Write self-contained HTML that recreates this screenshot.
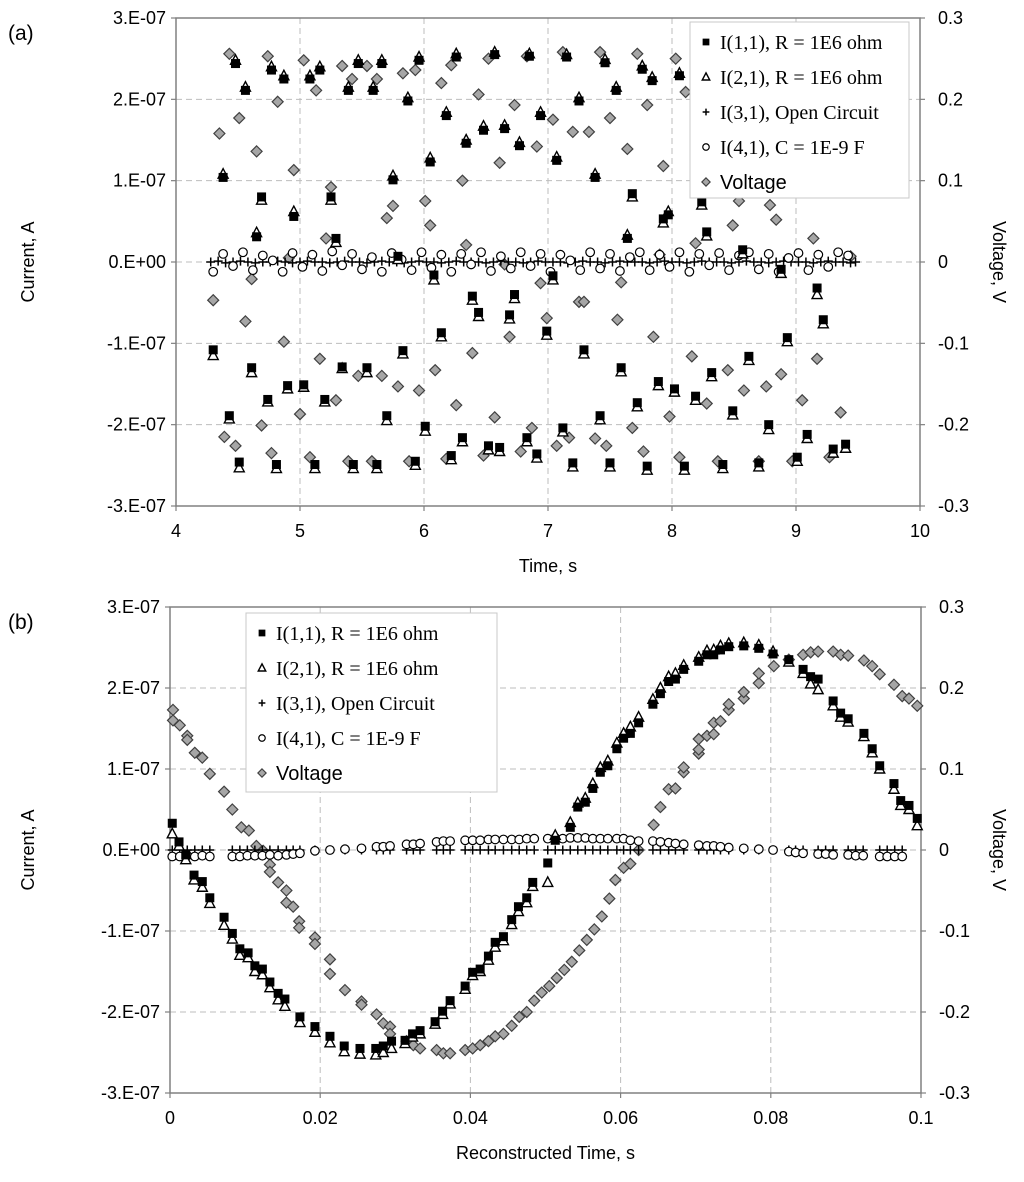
<!DOCTYPE html>
<html><head><meta charset="utf-8"><style>
html,body{margin:0;padding:0;background:#fff;}
svg{display:block;}
text{font-family:"Liberation Sans",sans-serif;fill:#000;}
.serif{font-family:"Liberation Serif",serif;}
</style></head><body>
<svg id="svg" width="1024" height="1182" viewBox="0 0 1024 1182" xmlns="http://www.w3.org/2000/svg">
<g id="gA"></g>
<g id="gB"></g>
</svg>
<script>
// ---------- Chart (a) data ----------
const yTicksCurrent = ["3.E-07","2.E-07","1.E-07","0.E+00","-1.E-07","-2.E-07","-3.E-07"];
const yTickCurrentVals = [3,2,1,0,-1,-2,-3];
const yTicksVoltage = ["0.3","0.2","0.1","0","-0.1","-0.2","-0.3"];
const xTicksA = [4,5,6,7,8,9,10];
const xTicksB = [0,0.02,0.04,0.06,0.08,0.1];
const xTickLabelsB = ["0","0.02","0.04","0.06","0.08","0.1"];

const sqAT = [4.30,4.38,4.43,4.48,4.51,4.56,4.61,4.65,4.69,4.74,4.77,4.81,4.87,4.90,4.95,5.03,5.08,5.12,5.16,5.20,5.25,5.29,5.34,5.39,5.43,5.47,5.54,5.59,5.62,5.66,5.70,5.75,5.79,5.83,5.87,5.93,5.96,6.01,6.05,6.08,6.14,6.18,6.22,6.26,6.31,6.34,6.39,6.44,6.48,6.52,6.57,6.61,6.65,6.69,6.73,6.77,6.83,6.85,6.91,6.94,6.99,7.04,7.07,7.12,7.15,7.20,7.25,7.29,7.38,7.42,7.46,7.50,7.55,7.59,7.64,7.68,7.72,7.76,7.80,7.84,7.89,7.93,7.97,8.02,8.06,8.10,8.19,8.24,8.28,8.32,8.41,8.49,8.57,8.62,8.70,8.78,8.88,8.93,9.01,9.09,9.17,9.22,9.30,9.40];
const sqAI = [-1.08,1.04,-1.89,2.44,-2.46,2.11,-1.30,0.31,0.80,-1.69,2.36,-2.49,2.25,-1.52,0.56,-1.51,2.25,-2.49,2.36,-1.69,0.80,0.29,-1.29,2.11,-2.49,2.44,-1.30,2.11,-2.49,2.44,-1.89,1.01,0.07,-1.09,1.98,-2.45,2.48,-2.02,1.23,-0.16,-0.87,1.80,-2.38,2.52,-2.16,1.46,-0.42,-0.62,1.62,-2.26,2.55,-2.28,1.64,-0.65,-0.40,1.43,-2.16,2.53,-2.36,1.80,-0.85,-0.17,1.25,-2.04,2.52,-2.47,1.98,-1.08,1.04,-1.89,2.45,-2.47,2.11,-1.30,0.29,0.84,-1.73,2.37,-2.51,2.23,-1.47,0.53,0.58,-1.56,2.29,-2.51,-1.65,0.74,0.37,-1.36,-2.49,-1.83,0.15,-1.16,-2.47,-2.00,-0.09,-0.93,-2.40,-2.12,-0.32,-0.71,-2.30,-2.24];
const triAI = [-1.15,1.08,-1.93,2.48,-2.53,2.15,-1.36,0.36,0.76,-1.72,2.40,-2.54,2.29,-1.56,0.62,-1.54,2.29,-2.54,2.40,-1.72,0.76,0.24,-1.31,2.15,-2.54,2.48,-1.36,2.15,-2.54,2.48,-1.95,1.06,0.03,-1.13,2.02,-2.50,2.52,-2.08,1.28,-0.22,-0.92,1.84,-2.43,2.56,-2.21,1.50,-0.47,-0.67,1.67,-2.31,2.58,-2.33,1.68,-0.70,-0.45,1.47,-2.21,2.56,-2.41,1.84,-0.90,-0.22,1.29,-2.09,2.55,-2.52,2.02,-1.13,1.08,-1.94,2.49,-2.52,2.15,-1.35,0.33,0.80,-1.78,2.41,-2.56,2.27,-1.52,0.48,0.62,-1.60,2.32,-2.56,-1.70,0.70,0.32,-1.41,-2.54,-1.88,0.10,-1.21,-2.52,-2.06,-0.14,-0.98,-2.45,-2.17,-0.40,-0.76,-2.35,-2.29];
const vAT = [4.30,4.35,4.39,4.43,4.48,4.51,4.56,4.61,4.65,4.69,4.74,4.77,4.82,4.87,4.91,4.95,5.00,5.03,5.08,5.13,5.16,5.21,5.25,5.29,5.34,5.39,5.42,5.47,5.54,5.58,5.62,5.66,5.70,5.75,5.79,5.83,5.88,5.93,5.96,6.01,6.05,6.09,6.14,6.18,6.22,6.26,6.31,6.34,6.39,6.44,6.48,6.52,6.57,6.61,6.65,6.69,6.73,6.78,6.83,6.87,6.91,6.94,6.99,7.04,7.07,7.12,7.17,7.20,7.25,7.29,7.33,7.38,7.42,7.47,7.50,7.56,7.59,7.64,7.68,7.72,7.77,7.80,7.85,7.90,7.93,7.98,8.03,8.06,8.11,8.16,8.19,8.28,8.37,8.45,8.49,8.54,8.58,8.70,8.76,8.79,8.84,8.88,8.97,9.05,9.14,9.17,9.27,9.36,9.44];
const vAV = [-0.047,0.158,-0.215,0.256,-0.226,0.177,-0.073,-0.021,0.136,-0.201,0.253,-0.235,0.197,-0.098,0.005,0.113,-0.187,0.248,-0.240,0.211,-0.119,0.029,0.092,-0.170,0.241,-0.245,0.225,-0.140,0.241,-0.245,0.225,-0.140,0.054,0.069,-0.153,0.232,-0.245,0.236,-0.158,0.075,0.045,-0.133,0.220,-0.242,0.242,-0.176,0.100,0.021,-0.112,0.206,-0.238,0.250,-0.191,0.122,-0.003,-0.092,0.193,-0.233,0.253,-0.204,0.142,-0.026,-0.069,0.175,-0.226,0.258,-0.216,0.160,-0.049,-0.049,0.160,-0.217,0.258,-0.226,0.177,-0.071,-0.025,0.139,-0.204,0.256,-0.233,0.193,-0.092,0.009,0.118,-0.190,0.250,-0.240,0.209,-0.116,0.023,-0.174,-0.245,-0.133,0.045,0.075,-0.158,-0.245,-0.153,0.070,0.052,-0.138,-0.245,-0.170,0.029,-0.119,-0.240,-0.185,0.007];
const circAT = [4.30,4.38,4.46,4.54,4.62,4.70,4.78,4.86,4.94,5.02,5.10,5.18,5.26,5.34,5.42,5.50,5.58,5.66,5.74,5.82,5.90,5.98,6.06,6.14,6.22,6.30,6.38,6.46,6.54,6.62,6.70,6.78,6.86,6.94,7.02,7.10,7.18,7.26,7.34,7.42,7.50,7.58,7.66,7.74,7.82,7.90,7.98,8.06,8.14,8.22,8.30,8.38,8.46,8.54,8.62,8.70,8.78,8.86,8.94,9.02,9.10,9.18,9.26,9.34,9.42];
const circAI = [-0.12,0.10,-0.05,0.12,-0.10,0.08,0.02,-0.12,0.11,-0.06,0.09,-0.11,0.13,-0.04,0.10,-0.09,0.06,-0.12,0.11,0.03,-0.10,0.12,-0.07,0.09,-0.12,0.10,-0.03,0.12,-0.11,0.07,-0.08,0.12,-0.05,0.10,-0.12,0.09,0.02,-0.10,0.12,-0.08,0.10,-0.11,0.06,0.12,-0.10,0.09,-0.06,0.12,-0.12,0.10,-0.04,0.11,-0.10,0.08,0.12,-0.09,0.10,-0.12,0.05,0.11,-0.10,0.09,-0.06,0.12,0.08];
const plusAT = [4.28,4.34,4.40,4.46,4.52,4.58,4.64,4.70,4.76,4.82,4.88,4.94,5.00,5.06,5.12,5.18,5.24,5.30,5.36,5.42,5.48,5.54,5.60,5.66,5.72,5.78,5.84,5.90,5.96,6.02,6.08,6.14,6.20,6.26,6.32,6.38,6.44,6.50,6.56,6.62,6.68,6.74,6.80,6.86,6.92,6.98,7.04,7.10,7.16,7.22,7.28,7.34,7.40,7.46,7.52,7.58,7.64,7.70,7.76,7.82,7.88,7.94,8.00,8.06,8.12,8.18,8.24,8.30,8.36,8.42,8.48,8.54,8.60,8.66,8.72,8.78,8.84,8.90,8.96,9.02,9.08,9.14,9.20,9.26,9.32,9.38,9.44,9.48];
const plusAI = [0,0.01,-0.01,0,0.01,0,-0.01,0,0,0.01,0,-0.01,0,0.01,0,0,-0.01,0,0.01,0,0,-0.01,0,0.01,0,0,-0.01,0,0.01,0,0,-0.01,0,0.01,0,0,0,-0.01,0,0.01,0,0,-0.01,0,0.01,0,0,0,-0.01,0,0.01,0,0,-0.01,0,0.01,0,0,0,-0.01,0,0.01,0,0,-0.01,0,0.01,0,0,0,-0.01,0,0.01,0,0,-0.01,0,0.01,0,0,0,-0.01,0,0.01,0,0,-0.01,0];

// ---------- Chart (b) data ----------
const sqBT = [0.0003,0.0012,0.0021,0.0032,0.0043,0.0053,0.0072,0.0083,0.0093,0.0104,0.0113,0.0123,0.0133,0.0144,0.0153,0.0173,0.0193,0.0213,0.0232,0.0253,0.0274,0.0284,0.0295,0.0313,0.0323,0.0333,0.0353,0.0363,0.0373,0.0393,0.0403,0.0413,0.0424,0.0433,0.0444,0.0455,0.0464,0.0475,0.0483,0.0503,0.0513,0.0533,0.0543,0.0553,0.0563,0.0573,0.0583,0.0595,0.0604,0.0613,0.0624,0.0643,0.0653,0.0664,0.0673,0.0684,0.0704,0.0715,0.0724,0.0733,0.0744,0.0764,0.0784,0.0803,0.0824,0.0843,0.0853,0.0863,0.0883,0.0893,0.0903,0.0924,0.0935,0.0945,0.0964,0.0973,0.0984,0.0995];
const sqBI = [0.33,0.10,-0.06,-0.31,-0.39,-0.59,-0.83,-1.03,-1.22,-1.27,-1.43,-1.47,-1.63,-1.77,-1.84,-2.06,-2.18,-2.30,-2.42,-2.45,-2.45,-2.42,-2.36,-2.35,-2.27,-2.23,-2.12,-1.99,-1.86,-1.68,-1.51,-1.47,-1.31,-1.14,-1.07,-0.86,-0.70,-0.59,-0.40,-0.16,0.12,0.28,0.53,0.59,0.76,0.96,1.04,1.25,1.38,1.44,1.57,1.80,1.93,2.08,2.11,2.23,2.33,2.41,2.41,2.47,2.51,2.52,2.49,2.42,2.35,2.23,2.14,2.11,1.84,1.69,1.62,1.44,1.25,1.04,0.82,0.61,0.55,0.39];
const triBI = [0.20,0.05,-0.12,-0.37,-0.46,-0.66,-0.93,-1.10,-1.30,-1.33,-1.50,-1.54,-1.70,-1.85,-1.93,-2.13,-2.25,-2.38,-2.49,-2.52,-2.53,-2.50,-2.45,-2.39,-2.31,-2.27,-2.15,-2.03,-1.90,-1.72,-1.55,-1.50,-1.36,-1.20,-1.12,-0.92,-0.76,-0.65,-0.45,-0.40,0.18,0.34,0.58,0.64,0.82,1.02,1.10,1.32,1.44,1.52,1.64,1.86,2.00,2.14,2.18,2.28,2.38,2.46,2.47,2.52,2.55,2.56,2.53,2.45,2.32,2.18,2.05,1.98,1.78,1.64,1.58,1.40,1.20,1.00,0.75,0.55,0.50,0.30];
const vBT = [0.0004,0.0004,0.0013,0.0023,0.0023,0.0033,0.0043,0.0053,0.0072,0.0083,0.0095,0.0105,0.0115,0.0124,0.0133,0.0133,0.0144,0.0155,0.0155,0.0164,0.0172,0.0172,0.0193,0.0193,0.0213,0.0213,0.0233,0.0255,0.0255,0.0275,0.0284,0.0293,0.0293,0.0315,0.0324,0.0333,0.0355,0.0364,0.0373,0.0393,0.0403,0.0413,0.0424,0.0433,0.0444,0.0455,0.0465,0.0475,0.0485,0.0495,0.0505,0.0515,0.0525,0.0535,0.0545,0.0555,0.0565,0.0575,0.0585,0.0593,0.0604,0.0613,0.0624,0.0644,0.0653,0.0664,0.0673,0.0684,0.0684,0.0704,0.0704,0.0704,0.0715,0.0724,0.0724,0.0733,0.0744,0.0744,0.0764,0.0764,0.0784,0.0784,0.0804,0.0824,0.0843,0.0853,0.0863,0.0883,0.0893,0.0903,0.0924,0.0935,0.0945,0.0964,0.0975,0.0984,0.0995];
const vBV = [0.173,0.160,0.154,0.141,0.136,0.120,0.114,0.094,0.072,0.050,0.028,0.024,0.005,-0.001,-0.018,-0.027,-0.040,-0.050,-0.065,-0.070,-0.088,-0.096,-0.108,-0.116,-0.135,-0.153,-0.173,-0.187,-0.191,-0.203,-0.214,-0.218,-0.227,-0.236,-0.241,-0.245,-0.247,-0.251,-0.251,-0.247,-0.245,-0.241,-0.236,-0.230,-0.227,-0.217,-0.206,-0.200,-0.186,-0.176,-0.168,-0.158,-0.148,-0.138,-0.124,-0.111,-0.098,-0.082,-0.060,-0.037,-0.022,-0.017,0.000,0.031,0.053,0.075,0.076,0.096,0.102,0.119,0.124,0.137,0.141,0.143,0.157,0.159,0.173,0.180,0.187,0.195,0.206,0.218,0.227,0.235,0.241,0.244,0.245,0.245,0.241,0.240,0.234,0.227,0.217,0.204,0.190,0.187,0.178];
const circBT = [0.0003,0.0013,0.0023,0.0033,0.0043,0.0053,0.0083,0.0093,0.0103,0.0113,0.0123,0.0133,0.0144,0.0155,0.0164,0.0173,0.0193,0.0213,0.0233,0.0255,0.0275,0.0284,0.0293,0.0315,0.0324,0.0333,0.0355,0.0364,0.0373,0.0393,0.0403,0.0413,0.0424,0.0433,0.0444,0.0455,0.0465,0.0475,0.0485,0.0503,0.0513,0.0523,0.0533,0.0543,0.0553,0.0563,0.0573,0.0583,0.0595,0.0604,0.0613,0.0624,0.0643,0.0653,0.0664,0.0673,0.0684,0.0704,0.0715,0.0724,0.0733,0.0744,0.0764,0.0784,0.0803,0.0824,0.0833,0.0843,0.0863,0.0873,0.0883,0.0903,0.0913,0.0923,0.0945,0.0955,0.0965,0.0975];
const circBI = [-0.08,-0.08,-0.07,-0.08,-0.07,-0.08,-0.08,-0.08,-0.07,-0.07,-0.07,-0.06,-0.07,-0.06,-0.05,-0.04,-0.01,0.00,0.01,0.02,0.04,0.04,0.05,0.07,0.07,0.08,0.10,0.11,0.11,0.12,0.12,0.12,0.13,0.13,0.13,0.13,0.13,0.14,0.14,0.14,0.15,0.14,0.15,0.15,0.15,0.14,0.14,0.14,0.14,0.14,0.12,0.11,0.11,0.10,0.09,0.08,0.07,0.06,0.05,0.05,0.04,0.03,0.02,0.01,0.00,-0.02,-0.03,-0.04,-0.05,-0.05,-0.06,-0.06,-0.07,-0.07,-0.08,-0.08,-0.08,-0.08];
const plusBI = [0,0,0,0,0,0,0,0,0,0,0,0,0,0,0,0,0,0,0,0,0,0,0,0,0,0,0,0,0,0,0,0,0,0,0,0,0,0,0,0,0,0,0,0,0,0,0,0,0,0,0,0,0,0,0,0,0,0,0,0,0,0,0,0,0,0,0,0,0,0,0,0,0,0,0,0,0,0];

const NS = "http://www.w3.org/2000/svg";
function mk(parent, tag, attrs, txt){
  const e = document.createElementNS(NS, tag);
  for (const k in attrs) e.setAttribute(k, attrs[k]);
  if (txt !== undefined) e.textContent = txt;
  parent.appendChild(e);
  return e;
}
function marker(g, kind, x, y, s){
  s = s || 1;
  let e;
  if (kind === 'sq') e = mk(g,'rect',{x:x-4.5*s,y:y-4.5*s,width:9*s,height:9*s,fill:'#000'});
  else if (kind === 'tri') e = mk(g,'path',{d:`M${x},${y-5.5*s}L${x+5*s},${y+4*s}L${x-5*s},${y+4*s}Z`,fill:'#fff',stroke:'#000','stroke-width':1.4});
  else if (kind === 'circ') e = mk(g,'circle',{cx:x,cy:y,r:4.3*s,fill:'#fff',stroke:'#000','stroke-width':1.2});
  else if (kind === 'dia') e = mk(g,'path',{d:`M${x},${y-5.5*s}L${x+5.5*s},${y}L${x},${y+5.5*s}L${x-5.5*s},${y}Z`,fill:'#a6a6a6',stroke:'#404040','stroke-width':1.2});
  else if (kind === 'plus') e = mk(g,'path',{d:`M${x-4.5*s},${y}H${x+4.5*s}M${x},${y-4.5*s}V${y+4.5*s}`,stroke:'#000','stroke-width':1.5,fill:'none'});
  return e;
}

function buildChart(cfg){
  const g = document.getElementById(cfg.id);
  const {L,R,T,B} = cfg;
  const x = cfg.x, yI = v => (T+B)/2 - v*(B-T)/6, yV = v => (T+B)/2 - v*(B-T)/0.6;
  // grid
  const grid = mk(g,'g',{});
  
  
  yTickCurrentVals.forEach(v=>{
    const yy=yI(v);
    if (v!==3 && v!==-3) mk(grid,'line',{x1:L,x2:R,y1:yy,y2:yy,stroke:'#bdbdbd','stroke-width':1,'stroke-dasharray':'6,4'});
  });
  cfg.xt.forEach((t,i)=>{
    const xx=x(t);
    if (i>0 && i<cfg.xt.length-1) mk(grid,'line',{x1:xx,x2:xx,y1:T,y2:B,stroke:'#bdbdbd','stroke-width':1,'stroke-dasharray':'6,4'});
  });
  const frame = mk(g,'rect',{x:L,y:T,width:R-L,height:B-T,fill:'none',stroke:'#808080','stroke-width':1.5});
  
  
  // y ticks
  yTickCurrentVals.forEach((v,i)=>{
    const yy=yI(v);
    mk(g,'line',{x1:L-5,x2:L,y1:yy,y2:yy,stroke:'#808080','stroke-width':1.2});
    mk(g,'line',{x1:R,x2:R+5,y1:yy,y2:yy,stroke:'#808080','stroke-width':1.2});
    const t1 = mk(g,'text',{x:L-10,y:yy+6,'text-anchor':'end','font-size':18},yTicksCurrent[i]);
    
    
    const t2 = mk(g,'text',{x:R+18,y:yy+6,'text-anchor':'start','font-size':18},yTicksVoltage[i]);
    
    
  });
  cfg.xt.forEach((t,i)=>{
    const xx=x(t);
    mk(g,'line',{x1:xx,x2:xx,y1:B,y2:B+5,stroke:'#808080','stroke-width':1.2});
    const tl = mk(g,'text',{x:xx,y:B+31,'text-anchor':'middle','font-size':18},cfg.xl[i]);
    
    
  });
  const xt = mk(g,'text',{x:(L+R)/2,y:B+66,'text-anchor':'middle','font-size':18},cfg.xTitle);
  
  
  const yt = mk(g,'text',{x:0,y:0,'text-anchor':'middle','font-size':18,transform:`translate(34,${(T+B)/2}) rotate(-90)`},'Current, A');
  
  
  const yt2 = mk(g,'text',{x:0,y:0,'text-anchor':'middle','font-size':18,transform:`translate(993,${(T+B)/2}) rotate(90)`},'Voltage, V');
  
  
  const pl = mk(g,'text',{x:8,y:T+22,'font-size':21},cfg.panel);
  
  

  // series
  function series(name, kind, ts, vs, yf){
    const sg = mk(g,'g',{});
    
    
    const n = Math.min(ts.length, vs.length);
    for (let i=0;i<n;i++){
      const m = marker(sg, kind, x(ts[i]), yf(vs[i]));
      
      
    }
  }
  series('series-voltage','dia',cfg.vT,cfg.vV,yV);
  series('series-i31-open-circuit','plus',cfg.pT,cfg.pI,yI);
  series('series-i41-capacitor','circ',cfg.cT,cfg.cI,yI);
  series('series-i21-resistor','tri',cfg.sT,cfg.tI,yI);
  series('series-i11-resistor','sq',cfg.sT,cfg.sI,yI);

  // legend
  const lg = mk(g,'g',{});
  
  
  const [lx,ly,lw,lh] = cfg.legend;
  mk(lg,'rect',{x:lx,y:ly,width:lw,height:lh,fill:'#fff',stroke:'#c8c8c8','stroke-width':1});
  const labels = ["I(1,1), R = 1E6 ohm","I(2,1), R = 1E6 ohm","I(3,1), Open Circuit","I(4,1), C = 1E-9 F","Voltage"];
  const kinds = ['sq','tri','plus','circ','dia'];
  labels.forEach((lab,i)=>{
    const yy = ly+20+i*35;
    const e = mk(lg,'g',{});
    
    
    marker(e, kinds[i], lx+16, yy, 0.75);
    const t = mk(e,'text',{x:lx+30,y:yy+7,'font-size':20,class:i<4?'serif':''},lab);
  });
}

buildChart({id:'gA',L:176,R:920,T:18,B:506,panel:'(a)',xTitle:'Time, s',
  x:t=>176+(t-4)*124, xt:xTicksA, xl:xTicksA.map(String),
  sT:sqAT,sI:sqAI,tI:triAI,vT:vAT,vV:vAV,cT:circAT,cI:circAI,pT:plusAT,pI:plusAI,
  legend:[690,22,219,176]});
buildChart({id:'gB',L:170,R:921,T:607,B:1093,panel:'(b)',xTitle:'Reconstructed Time, s',
  x:t=>170+t*7510, xt:xTicksB, xl:xTickLabelsB,
  sT:sqBT,sI:sqBI,tI:triBI,vT:vBT,vV:vBV,cT:circBT,cI:circBI,pT:circBT,pI:plusBI,
  legend:[246,613,251,179]});
</script>
</body></html>
